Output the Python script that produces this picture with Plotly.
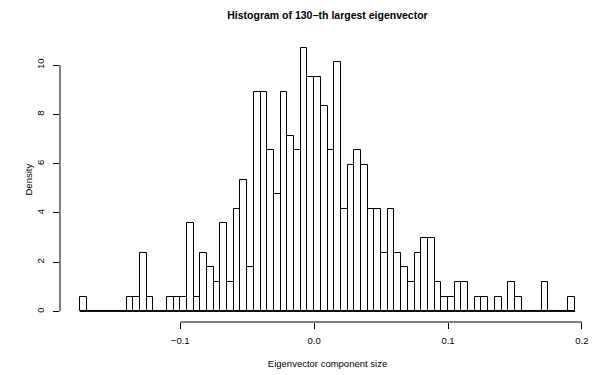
import numpy as np
import plotly.graph_objects as go

# ---- data ----
bin_start = -0.175
bin_width = 0.005
counts = [1, 0, 0, 0, 0, 0, 0, 1, 1, 4,
          1, 0, 0, 1, 1, 1, 6, 1, 4, 3,
          2, 6, 2, 7, 9, 3, 15, 15, 11, 8,
          15, 12, 11, 18, 16, 16, 14, 11, 17, 7,
          10, 11, 10, 7, 7, 4, 7, 4, 3, 2,
          4, 5, 5, 2, 1, 1, 2, 2, 0, 1,
          1, 0, 1, 0, 2, 1, 0, 0, 0, 2,
          0, 0, 0, 1]
x_ticks = [-0.1, 0.0, 0.1, 0.2]
x_tick_labels = ["\u22120.1", "0.0", "0.1", "0.2"]
y_ticks = [0, 2, 4, 6, 8, 10]
y_tick_labels = ["0", "2", "4", "6", "8", "10"]

title_text = "Histogram of 130\u2212th largest eigenvector"
x_title = "Eigenvector component size"
y_title = "Density"

# ---- derived ----
counts_arr = np.array(counts, dtype=float)
n = counts_arr.sum()
edges = bin_start + bin_width * np.arange(len(counts) + 1)
centers = edges[:-1] + bin_width / 2
density = counts_arr / (n * bin_width)

xspan = edges[-1] - edges[0]
xlo, xhi = edges[0] - 0.04 * xspan, edges[-1] + 0.04 * xspan
ymax = density.max()
ylo, yhi = -0.04 * ymax, ymax * 1.04

FONT = "Liberation Sans, Arial, Helvetica, sans-serif"
W, H = 596, 375
ML, MR, MT, MB = 60, 1, 37, 53
plot_w = W - ML - MR

fig = go.Figure()
fig.add_trace(go.Scatter(
    x=[edges[0], edges[-1]], y=[0, 0], mode="lines",
    line=dict(color="black", width=1), hoverinfo="skip", showlegend=False))
fig.add_trace(go.Bar(
    x=centers, y=density, width=bin_width,
    marker=dict(color="white", line=dict(color="black", width=1)),
    showlegend=False))

def px_x(v):
    return (v - xlo) / (xhi - xlo)

def px_y(v):
    return (v - ylo) / (yhi - ylo)

# R-style axis lines spanning only the tick range
fig.add_shape(type="line", xref="paper", yref="paper",
              x0=px_x(x_ticks[0]), x1=px_x(x_ticks[-1]), y0=0, y1=0,
              line=dict(color="black", width=1))
fig.add_shape(type="line", xref="paper", yref="paper",
              x0=0, x1=0, y0=px_y(y_ticks[0]), y1=px_y(y_ticks[-1]),
              line=dict(color="black", width=1))

# y-axis title placed like R's mtext
fig.add_annotation(text=y_title, xref="paper", yref="paper",
                   x=(28 - ML) / plot_w, y=0.5, xanchor="center", yanchor="middle",
                   textangle=-90, showarrow=False,
                   font=dict(family=FONT, size=9.5, color="black"))

fig.update_layout(
    width=W, height=H,
    margin=dict(l=ML, r=MR, t=MT, b=MB),
    paper_bgcolor="white", plot_bgcolor="white",
    bargap=0,
    font=dict(family=FONT, size=9.5, color="black"),
    title=dict(text="<b>" + title_text + "</b>", x=0.5, xref="paper",
               y=1 - 15 / 375, yref="container", yanchor="middle", xanchor="center",
               font=dict(family=FONT, size=10.5, color="black")),
    xaxis=dict(range=[xlo, xhi], tickvals=x_ticks, ticktext=x_tick_labels,
               ticks="outside", ticklen=6, tickwidth=1, tickcolor="black",
               showline=False, showgrid=False, zeroline=False,
               ticklabelstandoff=4,
               title=dict(text=x_title, standoff=14, font=dict(size=9.5))),
    yaxis=dict(range=[ylo, yhi], tickvals=y_ticks, ticktext=y_tick_labels,
               ticks="outside", ticklen=6, tickwidth=1, tickcolor="black",
               tickangle=-90,
               showline=False, showgrid=False, zeroline=False,
               ticklabelstandoff=5),
)

fig.write_html("out.html")
